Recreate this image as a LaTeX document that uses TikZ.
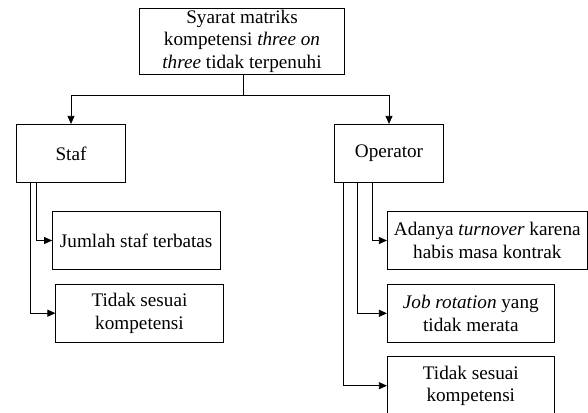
\documentclass[tikz,border=0pt]{standalone}
\usepackage{fontspec}
\setmainfont{Liberation Serif}
\usetikzlibrary{arrows.meta, positioning, calc}
\tikzset{
  box/.style={
    rectangle, draw=black, line width=0.8pt, fill=white,
    align=center, inner sep=0pt, font=\fontsize{19.2}{22.5}\selectfont
  },
  rootbox/.style={box, minimum width=205pt, minimum height=65.7pt},
  groupbox/.style={box, minimum width=109.7pt, minimum height=58.4pt},
  causebox/.style={box, minimum width=167.4pt, minimum height=58pt},
  arrowflow/.style={-{Triangle[length=8pt,width=7pt]}, line width=0.8pt, draw=black},
  linkflow/.style={line width=0.8pt, draw=black}
}

\begin{document}
\begin{tikzpicture}[x=1pt, y=-1pt]
\useasboundingbox (0,0) rectangle (588,412);

\node[rootbox] (root) at (242,41.2) {Syarat matriks\\ kompetensi \textit{three on}\\ \textit{three} tidak terpenuhi};
\node[groupbox] (staf) at (71,153.5) {Staf};
\node[groupbox] (operator) at (389,153.5) {Operator};

\node[causebox] (jumlah) at (136.2,240.5) {Jumlah staf terbatas};
\node[causebox] (tidakstaf) at (139.5,313.2) {Tidak sesuai\\ kompetensi};

\node[causebox, minimum width=200pt] (turnover) at (487.3,240.5) {Adanya \textit{turnover} karena\\ habis masa kontrak};
\node[causebox, minimum width=167pt] (rotation) at (470.8,313.3) {\textit{Job rotation} yang\\ tidak merata};
\node[causebox, minimum width=167pt] (tidakop) at (470.8,385.7) {Tidak sesuai\\ kompetensi};

\coordinate (split) at (243.4,95.7);
\draw[linkflow] (root.south -| split) -- (split);
\foreach \n in {staf, operator}
  \draw[arrowflow] (split) -| (\n);

\foreach \n/\s in {jumlah/21, tidakstaf/14.5}
  \draw[arrowflow] ([xshift=\s pt]staf.south west) |- (\n);

\foreach \n/\s in {turnover/38.3, rotation/23.7, tidakop/9.3}
  \draw[arrowflow] ([xshift=\s pt]operator.south west) |- (\n);
\end{tikzpicture}
\end{document}
